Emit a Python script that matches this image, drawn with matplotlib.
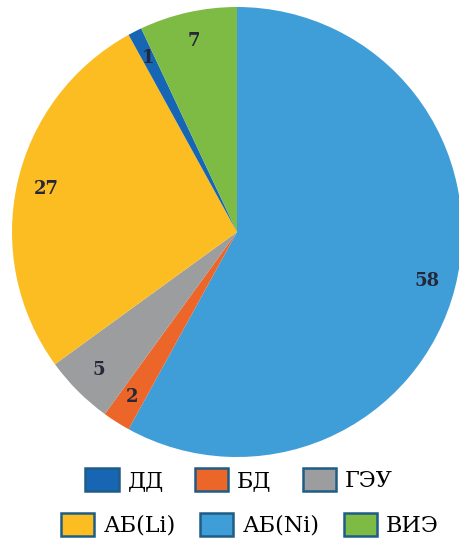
import matplotlib
matplotlib.use("Agg")
import matplotlib.pyplot as plt
from matplotlib.patches import Patch
import numpy as np

# Legend order
legend_labels = ["ДД", "БД", "ГЭУ", "АБ(Li)", "АБ(Ni)", "ВИЭ"]
legend_values = [1, 2, 5, 27, 58, 7]
legend_colors = ["#1666b4", "#ec6529", "#9c9d9f", "#fbbd22", "#3f9dd8", "#7ebb44"]

# Drawing order (clockwise from 12 o'clock)
pie_order = ["АБ(Ni)", "БД", "ГЭУ", "АБ(Li)", "ДД", "ВИЭ"]

idx = [legend_labels.index(n) for n in pie_order]
values = [legend_values[i] for i in idx]
colors = [legend_colors[i] for i in idx]

fig = plt.figure(figsize=(4.6, 5.42), dpi=100)
cx, cy, r = 237, 232, 225
W, H = 460, 542
ax = fig.add_axes([(cx - r) / W, 1 - (cy + r) / H, 2 * r / W, 2 * r / H])
wedges, _ = ax.pie(values, colors=colors, startangle=90, counterclock=False,
                   radius=1, wedgeprops=dict(linewidth=0))
for w in wedges:
    w.set_clip_on(False)
ax.set_xlim(-1, 1)
ax.set_ylim(-1, 1)
ax.set_aspect("equal")
ax.axis("off")

for w, v in zip(wedges, values):
    ang = np.deg2rad((w.theta1 + w.theta2) / 2)
    ax.text(0.87 * np.cos(ang), 0.87 * np.sin(ang), str(v), ha="center", va="center",
            fontsize=13, fontweight="bold", family="DejaVu Serif", color="#26283a")

handles = [Patch(facecolor=c, edgecolor="#1f5c86", linewidth=1.8) for c in legend_colors]
leg_kw = dict(loc="center", ncol=3, frameon=False, handlelength=1.5, handleheight=1.2,
              handletextpad=0.4, borderpad=0.1,
              prop=dict(family="DejaVu Serif", size=16))
l1 = fig.legend(handles[:3], legend_labels[:3], bbox_to_anchor=(239 / W, 1 - 480 / H),
                columnspacing=1.4, **leg_kw)
l2 = fig.legend(handles[3:], legend_labels[3:], bbox_to_anchor=(250 / W, 1 - 525 / H),
                columnspacing=1.1, **leg_kw)

fig.savefig("out.png", dpi=100)
